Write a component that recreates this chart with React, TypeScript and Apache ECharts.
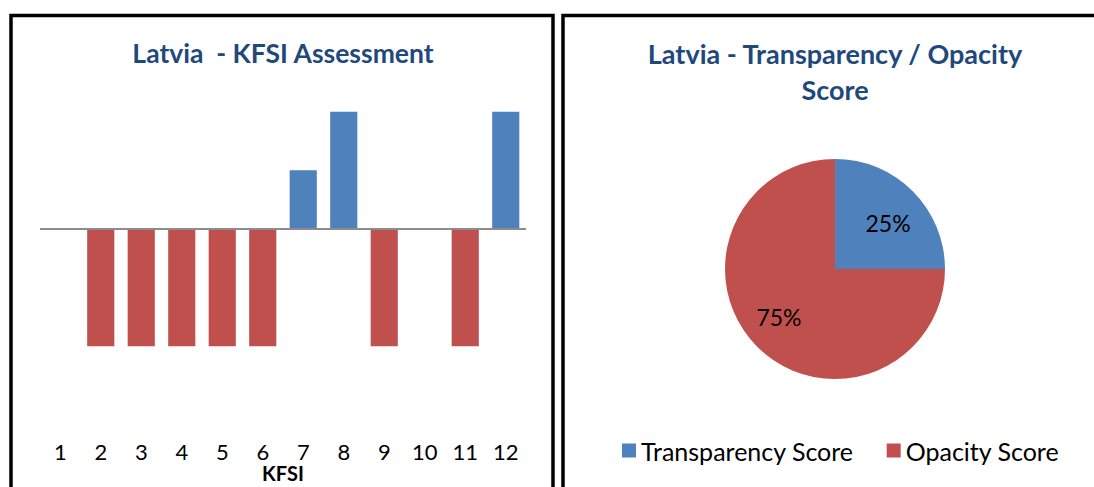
import React, { useEffect, useRef } from "react";
import * as echarts from "echarts";

const kfsiCategories = ["1", "2", "3", "4", "5", "6", "7", "8", "9", "10", "11", "12"];
const kfsiValues = [0, -1, -1, -1, -1, -1, 0.5, 1, -1, 0, -1, 1];
const pieNames = ["Transparency Score", "Opacity Score"];
const pieValues = [25, 75];

const BLUE = "#4F81BD";
const RED = "#C0504D";
const TITLE = "#1F497D";
const FONT = "Lato, 'Open Sans', sans-serif";

export default function App() {
  const ref = useRef<HTMLDivElement>(null);
  useEffect(() => {
    if (!ref.current) return;
    const chart = echarts.init(ref.current, undefined, { renderer: "svg" });
    chart.setOption({
      animation: false,
      textStyle: { fontFamily: FONT },
      graphic: [
        { type: "rect", shape: { x: 11, y: 15.5, width: 542, height: 520 }, style: { fill: "none", stroke: "#000", lineWidth: 3.5 }, silent: true },
        { type: "rect", shape: { x: 563, y: 15.5, width: 600, height: 520 }, style: { fill: "none", stroke: "#000", lineWidth: 3.5 }, silent: true },
        { type: "text", x: 283, y: 53, style: { text: "Latvia  - KFSI Assessment", fill: TITLE, font: `bold 26.5px ${FONT}`, textAlign: "center", textVerticalAlign: "middle", align: "center", verticalAlign: "middle" } },
        { type: "text", x: 835, y: 53, style: { text: "Latvia - Transparency / Opacity", fill: TITLE, font: `bold 27px ${FONT}`, textAlign: "center", textVerticalAlign: "middle", align: "center", verticalAlign: "middle" } },
        { type: "text", x: 835, y: 89, style: { text: "Score", fill: TITLE, font: `bold 27px ${FONT}`, textAlign: "center", textVerticalAlign: "middle", align: "center", verticalAlign: "middle" } },
      ],
      grid: { left: 40, width: 486, top: 53, height: 352, outerBoundsMode: "none", containLabel: false },
      xAxis: {
        type: "category",
        data: kfsiCategories,
        axisLine: { show: false },
        axisTick: { show: false },
        axisLabel: { margin: 35, color: "#000", fontSize: 22, fontFamily: FONT },
        name: "KFSI",
        nameLocation: "middle",
        nameGap: 58,
        nameMoveOverlap: false,
        nameTextStyle: { color: "#000", fontSize: 20, fontWeight: "bold", fontFamily: FONT },
      },
      yAxis: {
        type: "value",
        min: -1.5,
        max: 1.5,
        show: false,
        splitLine: { show: false },
      },
      legend: {
        data: pieNames,
        left: 622,
        top: 438,
        padding: 0,
        icon: "rect",
        itemWidth: 14,
        itemHeight: 14,
        itemGap: 33,
        textStyle: { fontSize: 25, color: "#000", fontFamily: FONT },
      },
      series: [
        {
          type: "bar",
          name: "KFSI",
          data: kfsiValues,
          barWidth: "67%",
          itemStyle: {
            color: (p: any) => (p.value >= 0 ? BLUE : RED),
          },
          markLine: {
            silent: true,
            symbol: "none",
            label: { show: false },
            lineStyle: { color: "#8c8c8c", width: 2, type: "solid" },
            data: [{ yAxis: 0 }],
          },
        },
        {
          type: "pie",
          center: [835, 269],
          radius: 110,
          startAngle: 90,
          clockwise: true,
          data: pieNames.map((n, i) => ({ name: n, value: pieValues[i] })),
          color: [BLUE, RED],
          label: {
            show: true,
            position: "inside",
            formatter: "{d}%",
            color: "#000",
            fontSize: 23,
            fontFamily: FONT,
          },
          labelLayout: (p: any) => (p.dataIndex === 0 ? { dx: 12, dy: -5 } : { dx: -15, dy: 7 }),
          itemStyle: { borderWidth: 0 },
          emphasis: { disabled: true },
        },
      ],
    });
    return () => chart.dispose();
  }, []);
  return <div ref={ref} style={{ position: "fixed", left: 0, top: 0, width: 1094, height: 487, background: "#fff" }} />;
}
